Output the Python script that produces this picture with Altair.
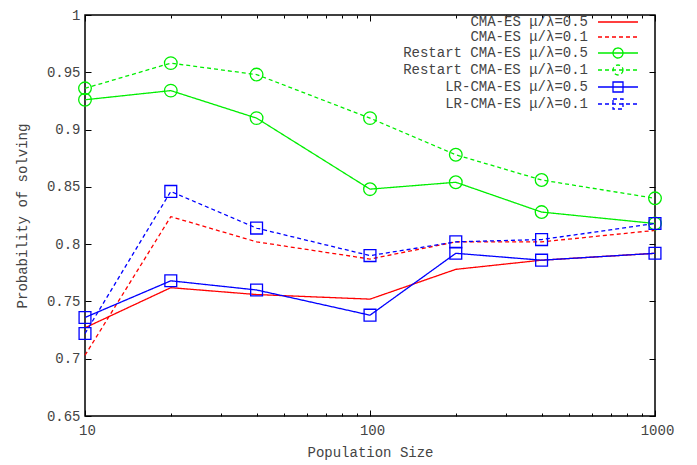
import altair as alt
import pandas as pd

# ---- data ----
pop_size = [10, 20, 40, 100, 200, 400, 1000]
series_names = [
    "CMA-ES μ/λ=0.5",
    "CMA-ES μ/λ=0.1",
    "Restart CMA-ES μ/λ=0.5",
    "Restart CMA-ES μ/λ=0.1",
    "LR-CMA-ES μ/λ=0.5",
    "LR-CMA-ES μ/λ=0.1",
]
cma_05 = [0.727, 0.762, 0.756, 0.752, 0.778, 0.786, 0.792]
cma_01 = [0.703, 0.824, 0.802, 0.787, 0.802, 0.802, 0.812]
restart_05 = [0.926, 0.934, 0.910, 0.848, 0.854, 0.828, 0.818]
restart_01 = [0.936, 0.958, 0.948, 0.910, 0.878, 0.856, 0.840]
lr_05 = [0.736, 0.768, 0.760, 0.738, 0.792, 0.786, 0.792]
lr_01 = [0.722, 0.846, 0.814, 0.790, 0.802, 0.804, 0.818]

x_major = [10, 100, 1000]
x_all_ticks = [10, 20, 30, 40, 50, 60, 70, 80, 90, 100,
               200, 300, 400, 500, 600, 700, 800, 900, 1000]
y_ticks = [0.65, 0.7, 0.75, 0.8, 0.85, 0.9, 0.95, 1.0]

series_colors = ["#ff0000", "#ff0000", "#00ee00", "#00ee00", "#0000ff", "#0000ff"]
series_dash = [[1, 0], [4, 3], [1, 0], [4, 3], [1, 0], [4, 3]]

values = [cma_05, cma_01, restart_05, restart_01, lr_05, lr_01]
rows = []
for name, vals in zip(series_names, values):
    for xv, yv in zip(pop_size, vals):
        rows.append({"pop": xv, "p": yv, "series": name})
df = pd.DataFrame(rows)
df_restart = df[df["series"].str.startswith("Restart")]
df_lr = df[df["series"].str.startswith("LR")]

W, H = 570, 401
FONT = "Liberation Mono"
TXT = "#444444"
FS = 14

# ---- legend symbols: line sample + marker drawn to the right of the label ----
SYM_SIZE = 144               # symbol scale = sqrt(144)/2 = 6 px per unit
UNIT = 6.0
CENTER = 7.0                 # legend entry symbol centre (px)
SAMPLE_X0, SAMPLE_X1 = 209.0, 249.0
MARK_R = 5.0

def u(px):
    return (px - CENTER) / UNIT

mc, r = u((SAMPLE_X0 + SAMPLE_X1) / 2), MARK_R / UNIT

def solid():
    return f"M{u(SAMPLE_X0):.3f},0H{u(SAMPLE_X1):.3f}"

def dashed(d=4.0, g=3.0):
    out, x = [], SAMPLE_X0
    while x < SAMPLE_X1:
        out.append(f"M{u(x):.3f},0H{u(min(x + d, SAMPLE_X1)):.3f}")
        x += d + g
    return "".join(out)

CIRC = (f"M{mc + r:.3f},0A{r:.3f},{r:.3f} 0 1,1 {mc - r:.3f},0"
        f"A{r:.3f},{r:.3f} 0 1,1 {mc + r:.3f},0Z")
SQR = f"M{mc - r:.3f},{-r:.3f}H{mc + r:.3f}V{r:.3f}H{mc - r:.3f}Z"
legend_paths = [solid(), dashed(), solid() + CIRC, dashed() + CIRC,
                solid() + SQR, dashed() + SQR]
sig = f"'{legend_paths[-1]}'"
for name, pth in reversed(list(zip(series_names[:-1], legend_paths[:-1]))):
    sig = f"datum.value == '{name}' ? '{pth}' : ({sig})"

legend = alt.Legend(
    title=None, orient="none", legendX=304, legendY=0, padding=0,
    labelFont=FONT, labelFontSize=FS, labelColor=TXT, labelAlign="right",
    labelOffset=185, labelLimit=400, symbolSize=SYM_SIZE,
    symbolStrokeWidth=1.3, rowPadding=1,
    symbolFillColor="transparent", symbolType=alt.ExprRef(sig),
)

x_scale = alt.Scale(type="log", domain=[10, 1000], nice=False)
y_scale = alt.Scale(domain=[0.65, 1.0], nice=False, zero=False)
color_scale = alt.Scale(domain=series_names, range=series_colors)
dash_scale = alt.Scale(domain=series_names, range=series_dash)

txt = dict(labelFont=FONT, labelFontSize=FS, labelColor=TXT,
           titleFont=FONT, titleFontSize=FS, titleColor=TXT, titleFontWeight="normal")

ax_x_lab = alt.Axis(orient="bottom", values=x_major, format="d", ticks=False, tickSize=0,
                    domain=False, grid=False, labelPadding=7, labelFlush=False,
                    labelOffset=2, title="Population Size", titlePadding=8, **txt)
ax_y_lab = alt.Axis(orient="left", values=y_ticks, format="~g", ticks=False, tickSize=0,
                    domain=False, grid=False, labelPadding=5,
                    title="Probability of solving", titlePadding=17, **txt)

tick_cond = {"condition": {"test": "datum.value==10||datum.value==100||datum.value==1000",
                           "value": 6}, "value": 3}
tk = dict(labels=False, domain=False, grid=False, title=None, tickColor="black", tickWidth=1)
ax_x_b = alt.Axis(orient="top", offset=-H, values=x_all_ticks, tickSize=tick_cond, **tk)
ax_x_t = alt.Axis(orient="bottom", offset=-H, values=x_all_ticks, tickSize=tick_cond, **tk)
ax_y_l = alt.Axis(orient="right", offset=-W, values=y_ticks, tickSize=6, **tk)
ax_y_r = alt.Axis(orient="left", offset=-W, values=y_ticks, tickSize=6, **tk)

lines = alt.Chart(df).mark_line(strokeWidth=1.3).encode(
    x=alt.X("pop:Q", scale=x_scale, axis=ax_x_lab),
    y=alt.Y("p:Q", scale=y_scale, axis=ax_y_lab),
    color=alt.Color("series:N", scale=color_scale, legend=legend),
    strokeDash=alt.StrokeDash("series:N", scale=dash_scale, legend=None),
)
pts_restart = alt.Chart(df_restart).mark_point(
    shape="circle", size=160, filled=False, strokeWidth=1.3, opacity=1
).encode(
    x=alt.X("pop:Q", scale=x_scale, axis=ax_x_b),
    y=alt.Y("p:Q", scale=y_scale, axis=ax_y_l),
    color=alt.Color("series:N", scale=color_scale, legend=None),
)
pts_lr = alt.Chart(df_lr).mark_point(
    shape="square", size=140, filled=False, strokeWidth=1.3, opacity=1
).encode(
    x=alt.X("pop:Q", scale=x_scale, axis=ax_x_t),
    y=alt.Y("p:Q", scale=y_scale, axis=ax_y_r),
    color=alt.Color("series:N", scale=color_scale, legend=None),
)

chart = (
    alt.layer(lines, pts_restart, pts_lr)
    .resolve_axis(x="independent", y="independent")
    .properties(width=W, height=H, autosize=alt.AutoSizeParams(type="none"),
                padding={"left": 77, "top": 7, "right": 34, "bottom": 50})
    .configure_view(stroke="black", strokeWidth=1.5)
)

chart.save("out.html", embed_options={"renderer": "svg", "actions": False})
